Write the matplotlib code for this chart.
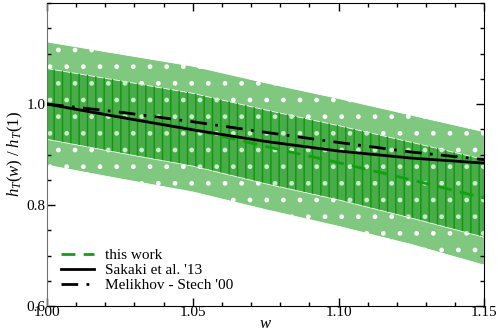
import numpy as np
import matplotlib
matplotlib.use('Agg')
from matplotlib import pyplot as plt

plt.rcParams['font.family'] = ['Liberation Serif', 'DejaVu Serif']
plt.rcParams['mathtext.fontset'] = 'custom'
plt.rcParams['mathtext.it'] = 'Liberation Serif:italic'
plt.rcParams['mathtext.rm'] = 'Liberation Serif'
plt.rcParams['hatch.linewidth'] = 1.0

# values
w = [1.00, 1.025, 1.05, 1.075, 1.10, 1.125, 1.15]
this_work = [1.000, 0.975, 0.950, 0.916, 0.884, 0.850, 0.814]
outer_hi = [1.123, 1.099, 1.075, 1.042, 1.011, 0.978, 0.945]
outer_lo = [0.879, 0.852, 0.826, 0.791, 0.758, 0.722, 0.681]
inner_hi = [1.071, 1.047, 1.022, 0.989, 0.958, 0.925, 0.891]
inner_lo = [0.931, 0.904, 0.878, 0.843, 0.811, 0.775, 0.737]
sakaki = [1.000, 0.974, 0.949, 0.926, 0.907, 0.893, 0.883]
melikhov = [1.000, 0.984, 0.965, 0.944, 0.924, 0.905, 0.890]

xticks = [1.00, 1.05, 1.10, 1.15]
xticklabels = ['1.00', '1.05', '1.10', '1.15']
yticks = [0.6, 0.8, 1.0]
yticklabels = ['0.6', '0.8', '1.0']

fig = plt.figure(figsize=(4.98, 3.36), dpi=100)
ax = fig.add_axes([0.0944, 0.089, 0.878, 0.902])

# outer band (light green with white dots)
ax.fill_between(w, outer_lo, outer_hi, facecolor='#80c880', edgecolor='white',
                linewidth=0.6, hatch='.', zorder=1)
# inner band (darker green with vertical lines)
ax.fill_between(w, inner_lo, inner_hi, facecolor='#48ac48', edgecolor='white',
                linewidth=0.6, zorder=2)
ax.fill_between(w, inner_lo, inner_hi, facecolor='none', edgecolor='#129412',
                linewidth=0, hatch='||', zorder=2)
ax.fill_between(w, inner_lo, inner_hi, facecolor='none', edgecolor='#c8ecc8',
                linewidth=0, hatch='.', zorder=2)

ax.plot(w, this_work, color='#10a010', lw=2, dashes=(5, 3), label='this work', zorder=3)
ax.plot(w, sakaki, color='black', lw=2, label="Sakaki et al. '13", zorder=4)
ax.plot(w, melikhov, color='black', lw=2, dashes=(6, 3, 1, 3),
        label="Melikhov - Stech '00", zorder=4)

ax.set_xlim(1.0, 1.15)
ax.set_ylim(0.6, 1.2)
ax.set_xticks(xticks)
ax.set_xticklabels(xticklabels)
ax.set_yticks(yticks)
ax.set_yticklabels(yticklabels)
ax.set_xticks(np.arange(1.0, 1.1501, 0.01), minor=True)
ax.set_yticks(np.arange(0.6, 1.2001, 0.05), minor=True)
ax.tick_params(which='both', direction='in', top=True, right=True, labelsize=11)
ax.tick_params(which='major', length=6, width=1)
ax.tick_params(which='minor', length=3, width=1)
ax.tick_params(axis='x', which='major', pad=0)
ax.tick_params(axis='y', which='major', pad=1)
ax.spines['left'].set_color('#707070')

ax.set_xlabel('$w$', fontsize=12, labelpad=-2)
ax.set_ylabel('$h_T(w)\\ /\\ h_T(1)$', fontsize=12, labelpad=1)

ax.legend(loc='lower left', bbox_to_anchor=(0.0, 0.0), frameon=False,
          fontsize=11, handlelength=2.2, labelspacing=0.1, handletextpad=0.7)

fig.savefig('out.png', dpi=100)
